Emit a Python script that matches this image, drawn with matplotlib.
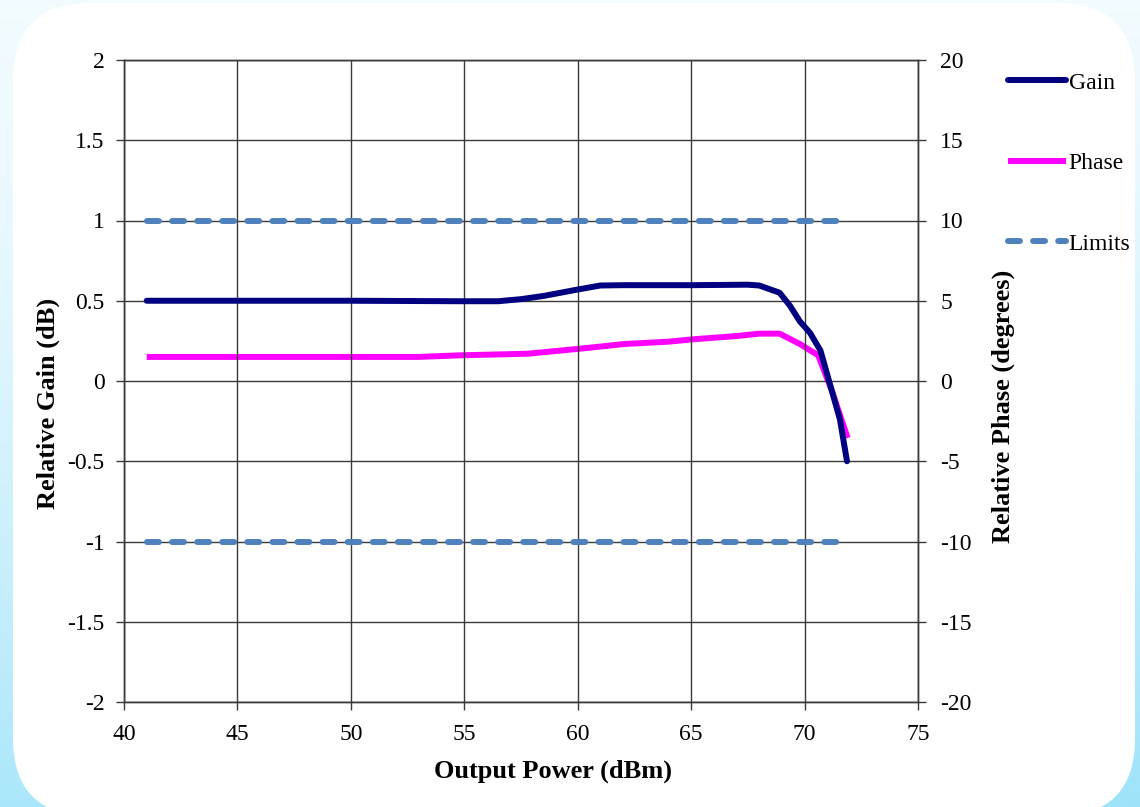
import matplotlib.pyplot as plt
import numpy as np
from matplotlib.patches import FancyBboxPatch

# Data
gain_power = [41, 45, 50, 54.8, 56.5, 57.5, 58.5, 60, 61, 62, 65, 67.5, 68.0, 68.9, 69.35, 69.8, 70.24, 70.7, 71.1, 71.56, 71.87]
gain_db = [0.5, 0.5, 0.5, 0.497, 0.497, 0.51, 0.53, 0.57, 0.595, 0.597, 0.597, 0.6, 0.595, 0.55, 0.47, 0.37, 0.30, 0.19, -0.01, -0.24, -0.5]

phase_power = [41, 45, 50, 53, 54.8, 57.8, 60, 60.7, 62, 64, 65.1, 67, 68.0, 68.9, 69.8, 70.6, 71.2, 71.9]
phase_deg = [1.5, 1.5, 1.5, 1.5, 1.6, 1.7, 2.0, 2.1, 2.3, 2.45, 2.6, 2.8, 2.95, 2.95, 2.3, 1.6, -0.6, -3.55]

limit_power = [41, 71.6]
limit_upper = [1, 1]
limit_lower = [-1, -1]

plt.rcParams['font.family'] = ['Liberation Serif', 'DejaVu Serif']
plt.rcParams['axes.unicode_minus'] = False

W, H = 1140, 807
fig = plt.figure(figsize=(W / 100, H / 100), dpi=100)

# background: pale blue gradient with a white rounded card (pixel coordinates)
bg = fig.add_axes([0, 0, 1, 1], zorder=-10)
bg.set_axis_off()
yy, xx = np.mgrid[0:1:200j, 0:1:200j]
t = np.clip(yy ** 1.5 * 0.85 + 0.15 * xx * yy, 0, 1)
c_top = np.array([0.95, 0.985, 1.0])
c_bot = np.array([0.62, 0.89, 0.98])
img = c_top[None, None, :] * (1 - t[..., None]) + c_bot[None, None, :] * t[..., None]
bg.imshow(img, extent=[0, W, H, 0], origin='upper', aspect='auto')
card = FancyBboxPatch((13, 3), 1122, 813, boxstyle='round,pad=0,rounding_size=78',
                      facecolor='white', edgecolor='none')
bg.add_patch(card)
bg.set_xlim(0, W)
bg.set_ylim(H, 0)

ax = fig.add_axes([124 / W, 1 - 702 / H, 794 / W, 642 / H])
ax.set_facecolor('none')
ax2 = ax.twinx()

lw = 4.3
ln_lim, = ax.plot(limit_power, limit_upper, color='#4F81BD', lw=lw, dashes=(2.0, 2.2),
                  dash_capstyle='round', label='Limits', zorder=3)
ax.plot(limit_power, limit_lower, color='#4F81BD', lw=lw, dashes=(2.0, 2.2),
        dash_capstyle='round', zorder=3)
ln_gain, = ax.plot(gain_power, gain_db, color='#000080', lw=lw, label='Gain', zorder=4,
                   solid_capstyle='round', solid_joinstyle='round')
ln_phase, = ax2.plot(phase_power, phase_deg, color='#FF00FF', lw=lw, label='Phase', zorder=4,
                     solid_capstyle='butt', solid_joinstyle='round')
ax.set_zorder(ax2.get_zorder() + 1)

ax.set_xlim(40, 75)
ax.set_ylim(-2, 2)
ax2.set_ylim(-20, 20)
ax.set_xticks(np.arange(40, 76, 5))
ax.set_yticks(np.arange(-2, 2.01, 0.5))
ax.set_yticklabels(['-2', '-1.5', '-1', '-0.5', '0', '0.5', '1', '1.5', '2'])
ax2.set_yticks(np.arange(-20, 21, 5))
ax.grid(True, color='#3a3a3a', lw=1.0)

for a in (ax, ax2):
    a.tick_params(labelsize=17, length=6, width=1, color='#3a3a3a')
    for s in a.spines.values():
        s.set_color('#3a3a3a')
        s.set_linewidth(1)
ax.tick_params(axis='y', pad=8)
ax.tick_params(axis='x', pad=10)
ax2.tick_params(axis='y', pad=10)

ax.set_xlabel('Output Power (dBm)', fontsize=19, fontweight='bold')
ax.set_ylabel('Relative Gain (dB)', fontsize=19, fontweight='bold')
ax2.set_ylabel('Relative Phase (degrees)', fontsize=19, fontweight='bold')
ax.xaxis.set_label_coords(0.54, -0.09)
ax.yaxis.set_label_coords(-0.081, 0.465)
ax2.yaxis.set_label_coords(1.093, 0.46)

fig.legend([ln_gain, ln_phase, ln_lim], ['Gain', 'Phase', 'Limits'], loc='upper left',
           bbox_to_anchor=(0.866, 0.937), frameon=False, fontsize=17, handlelength=2.45,
           handletextpad=0.1, labelspacing=2.5)

fig.savefig('out.png', dpi=100)
